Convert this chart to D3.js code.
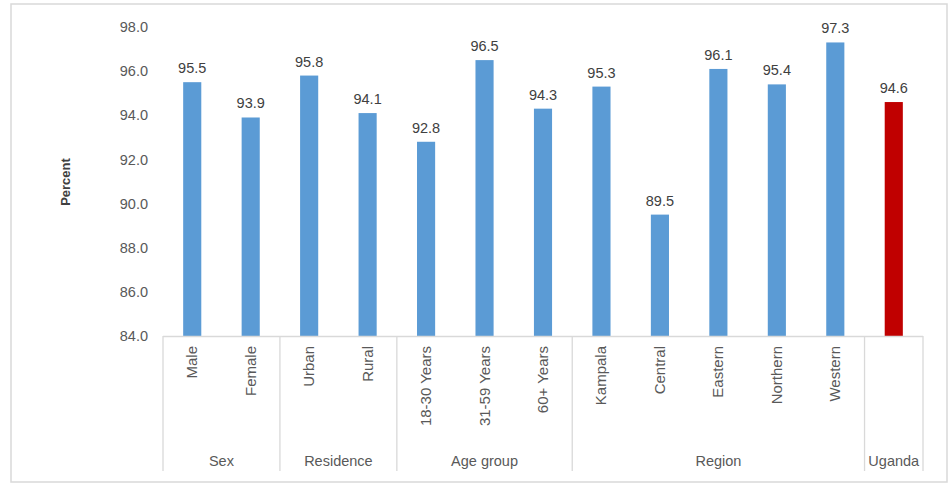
<!DOCTYPE html>
<html><head><meta charset="utf-8">
<script src="https://cdn.jsdelivr.net/npm/d3@7"></script>
<style>body{margin:0;background:#fff;font-family:Arial,"Liberation Sans",sans-serif}</style>
</head><body><svg id="c" width="952" height="485"></svg>
<script>
const categories = ["Male","Female","Urban","Rural","18-30 Years","31-59 Years","60+ Years","Kampala","Central","Eastern","Northern","Western","Uganda"];
const categoryLabels = ["Male","Female","Urban","Rural","18-30 Years","31-59 Years","60+ Years","Kampala","Central","Eastern","Northern","Western",""];
const values = [95.5,93.9,95.8,94.1,92.8,96.5,94.3,95.3,89.5,96.1,95.4,97.3,94.6];
const groups = ["Sex","Residence","Age group","Region","Uganda"];
const groupSizes = [2,2,3,5,1];
const yTicks = [84,86,88,90,92,94,96,98];

(function(){
const svg = d3.select("#c");
const pL = 163, pR = 923, pT = 27, pB = 336;
svg.append("rect").attr("x",11).attr("y",4).attr("width",936).attr("height",478)
  .attr("fill","#fff").attr("stroke","#d9d9d9").attr("stroke-width",1.5);

const x = d3.scaleBand().domain(categories).range([pL,pR]).paddingInner(0.69).paddingOuter(0.345);
const y = d3.scaleLinear().domain([84,98]).range([pB,pT]);

const yAxis = svg.append("g").attr("transform",`translate(${pL},0)`)
  .call(d3.axisLeft(y).tickValues(yTicks).tickFormat(d3.format(".1f")).tickSize(0).tickPadding(15));
yAxis.select(".domain").remove();
yAxis.selectAll("text").attr("font-size",14.5).attr("fill","#595959").attr("font-family","Arial,'Liberation Sans',sans-serif");

svg.append("text").attr("transform","translate(70,182) rotate(-90)").attr("text-anchor","middle")
  .attr("font-size",13).attr("font-weight","bold").attr("fill","#404040").text("Percent");

svg.selectAll("rect.bar").data(values).enter().append("rect").attr("class","bar")
  .attr("x",(d,i)=>x(categories[i])).attr("width",x.bandwidth())
  .attr("y",d=>y(d)).attr("height",d=>y(84)-y(d))
  .attr("fill",(d,i)=>i===categories.length-1?"#C00000":"#5B9BD5");

svg.selectAll("text.val").data(values).enter().append("text").attr("class","val")
  .attr("x",(d,i)=>x(categories[i])+x.bandwidth()/2).attr("y",d=>y(d)-9)
  .attr("text-anchor","middle").attr("font-size",14.5).attr("fill","#404040").text(d=>d.toFixed(1));

svg.append("line").attr("x1",pL).attr("x2",pR).attr("y1",pB+0.5).attr("y2",pB+0.5)
  .attr("stroke","#d9d9d9").attr("stroke-width",1.3);

svg.selectAll("text.cat").data(categories).enter().append("text").attr("class","cat")
  .attr("transform",d=>`translate(${x(d)+x.bandwidth()/2+5},${pB+10}) rotate(-90)`)
  .attr("text-anchor","end").attr("font-size",15).attr("fill","#595959").text((d,i)=>categoryLabels[i]);

const step = x.step();
let start = 0;
const bounds = [pL];
groups.forEach((g,gi)=>{
  const n = groupSizes[gi];
  const x0 = pL + start*step, x1 = pL + (start+n)*step;
  bounds.push(x1);
  svg.append("text").attr("x",(x0+x1)/2).attr("y",466).attr("text-anchor","middle")
    .attr("font-size",14.5).attr("fill","#595959").text(g);
  start += n;
});
svg.selectAll("line.div").data(bounds).enter().append("line").attr("class","div")
  .attr("x1",d=>d).attr("x2",d=>d).attr("y1",pB).attr("y2",471)
  .attr("stroke","#d9d9d9").attr("stroke-width",1.3);
})();
</script></body></html>
